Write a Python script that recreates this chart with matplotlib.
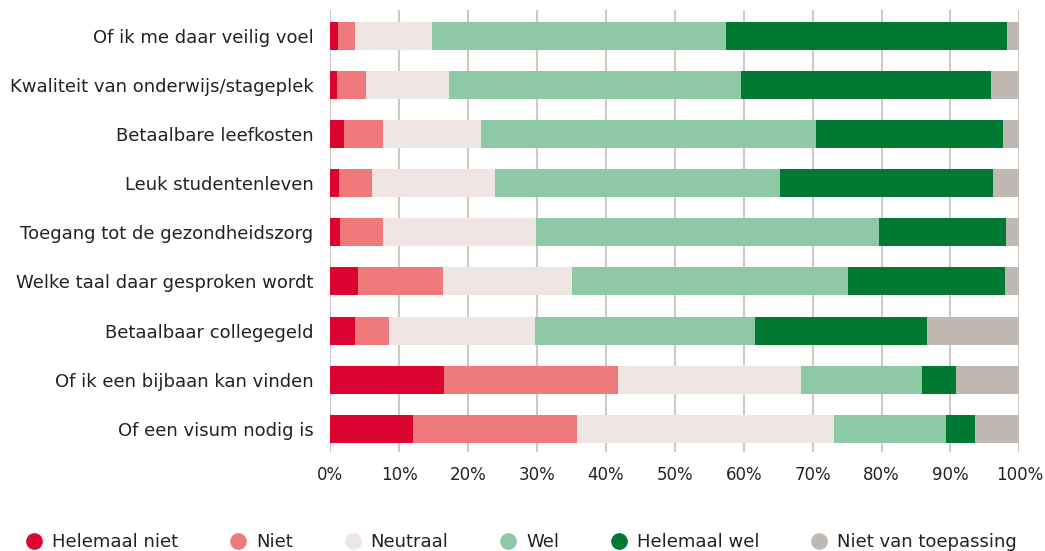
import numpy as np
import matplotlib.pyplot as plt
from matplotlib.lines import Line2D

# categories (top to bottom)
categories = [
    "Of ik me daar veilig voel",
    "Kwaliteit van onderwijs/stageplek",
    "Betaalbare leefkosten",
    "Leuk studentenleven",
    "Toegang tot de gezondheidszorg",
    "Welke taal daar gesproken wordt",
    "Betaalbaar collegegeld",
    "Of ik een bijbaan kan vinden",
    "Of een visum nodig is",
]

# shares in percent per answer
helemaal_niet = [1.1, 1.0, 2.0, 1.3, 1.4, 4.0, 3.6, 16.5, 12.0]
niet = [2.5, 4.2, 5.7, 4.7, 6.3, 12.3, 4.9, 25.3, 23.8]
neutraal = [11.2, 12.0, 14.2, 17.9, 22.2, 18.8, 21.2, 26.5, 37.3]
wel = [42.7, 42.4, 48.6, 41.4, 49.8, 40.0, 31.9, 17.6, 16.3]
helemaal_wel = [40.7, 36.3, 27.1, 30.9, 18.4, 22.8, 25.0, 4.9, 4.2]
niet_van_toepassing = [1.8, 4.1, 2.4, 3.8, 1.9, 2.1, 13.4, 9.2, 6.4]

series_names = ["Helemaal niet", "Niet", "Neutraal", "Wel", "Helemaal wel", "Niet van toepassing"]
series = [helemaal_niet, niet, neutraal, wel, helemaal_wel, niet_van_toepassing]
colors = ["#DC0532", "#F07A7B", "#EEE6E3", "#8EC9A5", "#007A33", "#C0B8B2"]

plt.rcParams['font.family'] = ['DejaVu Sans']
text_color = "#222222"

fig = plt.figure(figsize=(10.45, 5.51), dpi=100)
ax = fig.add_axes([0.316, 0.18, 0.6595, 0.802])

y = np.arange(len(categories))
left = np.zeros(len(categories))
for name, vals, col in zip(series_names, series, colors):
    vals = np.array(vals)
    ax.barh(y, vals, left=left, height=0.57, color=col, zorder=3, label=name)
    left += vals

ax.set_xlim(0, 100)
ax.set_ylim(8.47, -0.53)
ax.set_yticks(y)
ax.set_yticklabels(categories, fontsize=13, color=text_color)
ax.set_xticks(np.arange(0, 101, 10))
ax.set_xticklabels([f"{v}%" for v in range(0, 101, 10)], fontsize=12, color=text_color)
ax.tick_params(axis='both', length=0)
ax.tick_params(axis='x', pad=10)
ax.tick_params(axis='y', pad=12)
ax.grid(axis='x', color="#CFC9C4", linewidth=1.5, zorder=0)
for s in ax.spines.values():
    s.set_visible(False)

handles = [Line2D([0], [0], marker='o', linestyle='none', markersize=11,
                  markerfacecolor=c, markeredgecolor=c) for c in colors]
fig.legend(handles, series_names, loc='lower left', bbox_to_anchor=(0.007, -0.03),
           ncol=6, frameon=False, fontsize=13, handletextpad=0.4, handlelength=1.2,
           columnspacing=2.7, labelcolor=text_color)

fig.savefig("out.png", dpi=100)
